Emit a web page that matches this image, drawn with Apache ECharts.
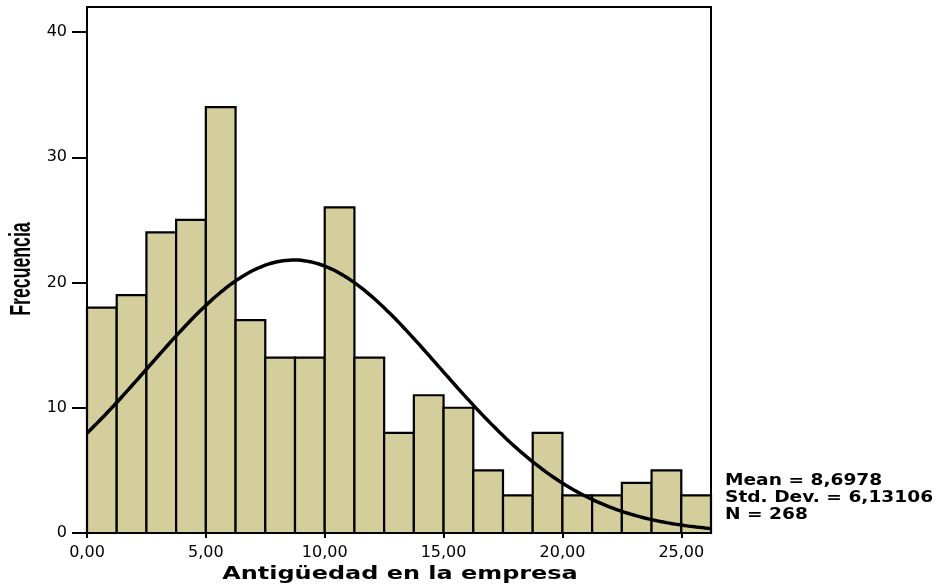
<!DOCTYPE html>
<html>
<head>
<meta charset="utf-8">
<script src="https://cdn.jsdelivr.net/npm/echarts@6/dist/echarts.min.js"></script>
<style>
  html, body { margin: 0; padding: 0; background: #ffffff; }
  #chart { width: 937px; height: 585px; }
</style>
</head>
<body>
<div id="chart"></div>
<script>
// Histogram of years of service (bin width 1.25)
const binStarts = [0, 1.25, 2.5, 3.75, 5, 6.25, 7.5, 8.75, 10, 11.25, 12.5,
                   13.75, 15, 16.25, 17.5, 18.75, 20, 21.25, 22.5, 23.75, 25];
const binWidth = 1.25;
const counts = [18, 19, 24, 25, 34, 17, 14, 14, 26, 14, 8,
                11, 10, 5, 3, 8, 3, 3, 4, 5, 3];
const xTicks = [0, 5, 10, 15, 20, 25];
const yTicks = [0, 10, 20, 30, 40];

// Summary statistics shown beside the plot
const mean = 8.6978;
const stdDev = 6.13106;
const total = 268;

const xMax = 26.25;
const yMax = 42;

const fmt = v => v.toFixed(2).replace('.', ',');
const fmtStat = (v, d) => v.toFixed(d).replace('.', ',');

// Bars as [start, end, count]
const barData = binStarts.map((s, i) => [s, s + binWidth, counts[i]]);

// Fitted normal curve scaled to counts per bin
const curveData = [];
for (let x = 0; x <= xMax + 1e-9; x += 0.125) {
  const z = (x - mean) / stdDev;
  const y = total * binWidth * Math.exp(-0.5 * z * z) / (stdDev * Math.sqrt(2 * Math.PI));
  curveData.push([x, y]);
}

const chart = echarts.init(document.getElementById('chart'), null, { renderer: 'canvas' });

const labelFont = { fontFamily: 'DejaVu Sans', fontSize: 16, color: '#000' };

chart.setOption({
  animation: false,
  backgroundColor: '#ffffff',
  grid: {
    left: 87, right: 226, top: 7, bottom: 52,
    show: true, borderColor: '#000', borderWidth: 2, backgroundColor: 'transparent'
  },
  xAxis: {
    type: 'value', min: 0, max: xMax,
    axisLine: { show: true, onZero: false, lineStyle: { color: '#000', width: 2 } },
    axisTick: { show: true, customValues: xTicks, length: 5, lineStyle: { color: '#000', width: 2 } },
    axisLabel: Object.assign({ customValues: xTicks, margin: 12, formatter: v => fmt(v) }, labelFont),
    splitLine: { show: false }
  },
  yAxis: {
    type: 'value', min: 0, max: yMax,
    axisLine: { show: true, lineStyle: { color: '#000', width: 2 } },
    axisTick: { show: true, customValues: yTicks, length: 15, lineStyle: { color: '#000', width: 2 } },
    axisLabel: Object.assign({ customValues: yTicks, margin: 20 }, labelFont),
    splitLine: { show: false }
  },
  series: [
    {
      type: 'custom',
      data: barData,
      encode: { x: [0, 1], y: 2 },
      z: 2,
      renderItem: function (params, api) {
        const top = api.coord([api.value(0), api.value(2)]);
        const base = api.coord([api.value(1), 0]);
        return {
          type: 'rect',
          shape: { x: top[0], y: top[1], width: base[0] - top[0], height: base[1] - top[1] },
          style: { fill: '#D3CE9B', stroke: '#000', lineWidth: 2.2 }
        };
      }
    },
    {
      type: 'line',
      data: curveData,
      showSymbol: false,
      smooth: false,
      z: 3,
      lineStyle: { color: '#000', width: 3.5 }
    }
  ],
  graphic: [
    {
      type: 'text', x: 400, y: 574, scaleX: 1.33, z: 10,
      style: {
        text: 'Antigüedad en la empresa',
        font: 'bold 18px "DejaVu Sans"', fill: '#000',
        align: 'center', verticalAlign: 'middle'
      }
    },
    {
      type: 'text', x: 22, y: 269, rotation: Math.PI / 2, scaleX: 0.61, z: 10,
      style: {
        text: 'Frecuencia',
        font: 'bold 29px "Liberation Sans Narrow", "Liberation Sans"', fill: '#000',
        align: 'center', verticalAlign: 'middle'
      }
    },
    {
      type: 'text', x: 725, y: 473, scaleX: 1.24, z: 10,
      style: {
        text: 'Mean = ' + fmtStat(mean, 4) + '\nStd. Dev. = ' + fmtStat(stdDev, 5) + '\nN = ' + total,
        font: 'bold 15px "DejaVu Sans"', lineHeight: 17, fill: '#000',
        align: 'left', verticalAlign: 'top'
      }
    }
  ]
});
</script>
</body>
</html>
